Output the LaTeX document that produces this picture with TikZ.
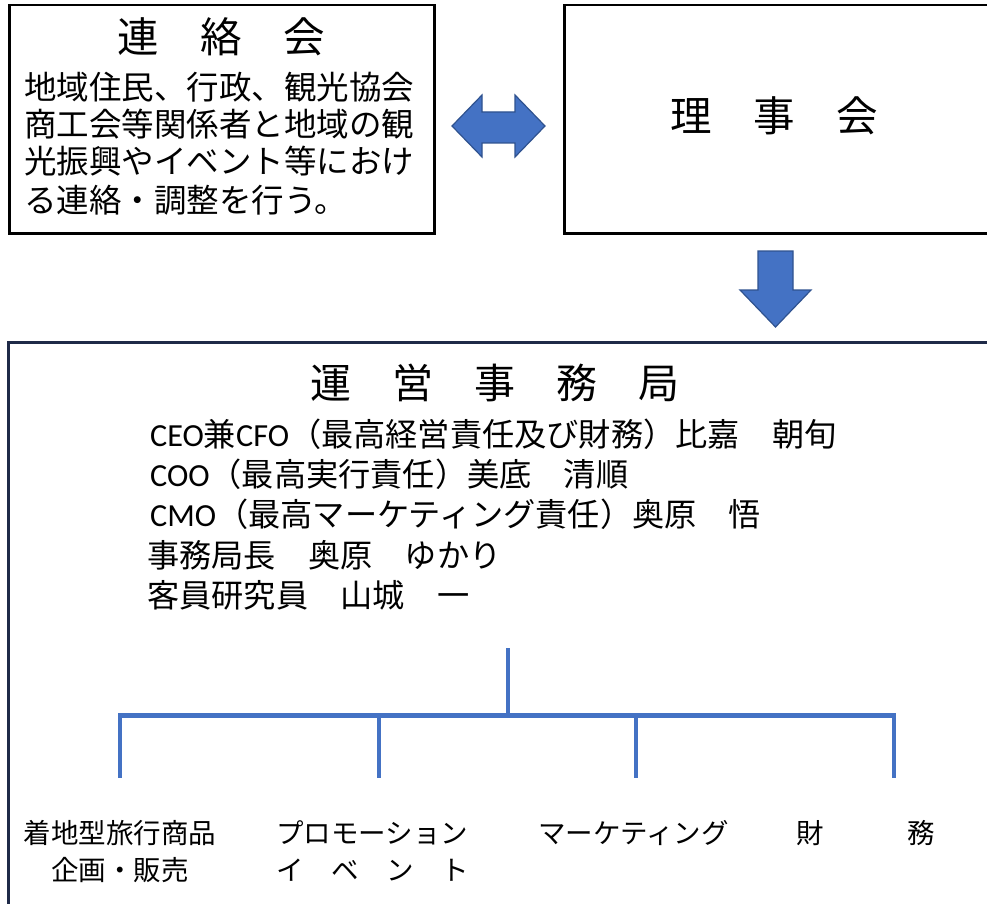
\documentclass[tikz,border=0pt]{standalone}
\usepackage{fontspec}
\setmainfont{Noto Sans CJK JP}
\newfontfamily\lat{Carlito}
\definecolor{arrowblue}{HTML}{4472C4}
\definecolor{arrowedge}{HTML}{2F528F}
\definecolor{treeblue}{HTML}{4472C4}
\definecolor{navy}{HTML}{1F2A48}
\begin{document}
\begin{tikzpicture}[x=1pt,y=-1pt,
  box/.style={draw=black, line width=2.5pt, inner sep=0pt, anchor=north west},
  bigbox/.style={draw=navy, line width=2.5pt, inner sep=0pt, anchor=north west},
  txt/.style={inner sep=0pt, text=black},
  ttl/.style={txt, anchor=base, font=\fontsize{41.5}{41.5}\selectfont},
  body/.style={txt, anchor=base west, font=\fontsize{32.5}{32.5}\selectfont},
  staff/.style={txt, anchor=base west, font=\fontsize{32.2}{32.2}\selectfont},
  dept/.style={txt, font=\fontsize{27.5}{27.5}\selectfont},
  barrow/.style={fill=arrowblue, draw=arrowedge, line width=1.2pt, line join=miter},
  bar/.style={draw=treeblue, line width=5pt},
  drop/.style={draw=treeblue, line width=3.6pt}
]
\useasboundingbox (0,0) rectangle (987,904);
\fill[white] (0,0) rectangle (987,904);

% boxes
\node[box, minimum width=425pt, minimum height=228pt] (renraku) at (8,4) {};
\node[box, minimum width=430pt, minimum height=228pt] (riji) at (563,4) {};
\node[bigbox, minimum width=980pt, minimum height=575pt] (jimu) at (7,341) {};

% 連絡会
\node[ttl] (renrakuT) at (221.5,53) {連　絡　会};
\node[body] (r1) at (24,99.4) {地域住民、行政、観光協会};
\node[body] (r2) at (24,136.4) {商工会等関係者と地域の観};
\node[body] (r3) at (24,173.4) {光振興やイベント等におけ};
\node[body] (r4) at (24,212.4) {る連絡・調整を行う。};

% 理事会
\node[ttl] (rijiT) at (774,131.7) {理　事　会};

% arrows
\draw[barrow] (452,126) -- (482,95) -- (482,112) -- (515,112) -- (515,95)
  -- (545,126) -- (515,157) -- (515,143) -- (482,143) -- (482,157) -- cycle;
\draw[barrow] (758,251) -- (793,251) -- (793,290) -- (811,290) -- (775.5,327)
  -- (740,290) -- (758,290) -- cycle;

% 運営事務局
\node[ttl, font=\fontsize{41}{41}\selectfont] (jimuT) at (495,398) {運　営　事　務　局};
\node[staff] (s1) at (150,446) {{\lat CEO}兼{\lat CFO}（最高経営責任及び財務）比嘉　朝旬};
\node[staff] (s2) at (150,486) {{\lat COO}（最高実行責任）美底　清順};
\node[staff] (s3) at (150,526) {{\lat CMO}（最高マーケティング責任）奥原　悟};
\node[staff] (s4) at (147,567) {事務局長　奥原　ゆかり};
\node[staff] (s5) at (147,607) {客員研究員　山城　一};

% tree
\coordinate (top) at (508,648);
\coordinate (hub) at (508,715);
\coordinate (d1) at (120,715);
\coordinate (d2) at (379,715);
\coordinate (d3) at (636,715);
\coordinate (d4) at (894,715);
\coordinate (e1) at (120,778);
\coordinate (e2) at (379,778);
\coordinate (e3) at (636,778);
\coordinate (e4) at (894,778);
\draw[drop] (top) -- (hub);
\draw[drop] (d1) -- (e1);
\draw[drop] (d2) -- (e2);
\draw[drop] (d3) -- (e3);
\draw[drop] (d4) -- (e4);
\draw[bar] ([xshift=-1.8pt]d1) -- ([xshift=1.8pt]d4);

% departments
\node[dept, anchor=base] (p1a) at (120,843.5) {着地型旅行商品};
\node[dept, anchor=base] (p1b) at (120,880.5) {企画・販売};
\node[dept, anchor=base west] (p2a) at (276,843.5) {プロモーション};
\node[dept, anchor=base west] (p2b) at (276,880.5) {イ　ベ　ン　ト};
\node[dept, anchor=base west] (p3) at (538,843.5) {マーケティング};
\node[dept, anchor=base] (p4a) at (810,843.5) {財};
\node[dept, anchor=base] (p4b) at (921,843.5) {務};
\end{tikzpicture}
\end{document}
